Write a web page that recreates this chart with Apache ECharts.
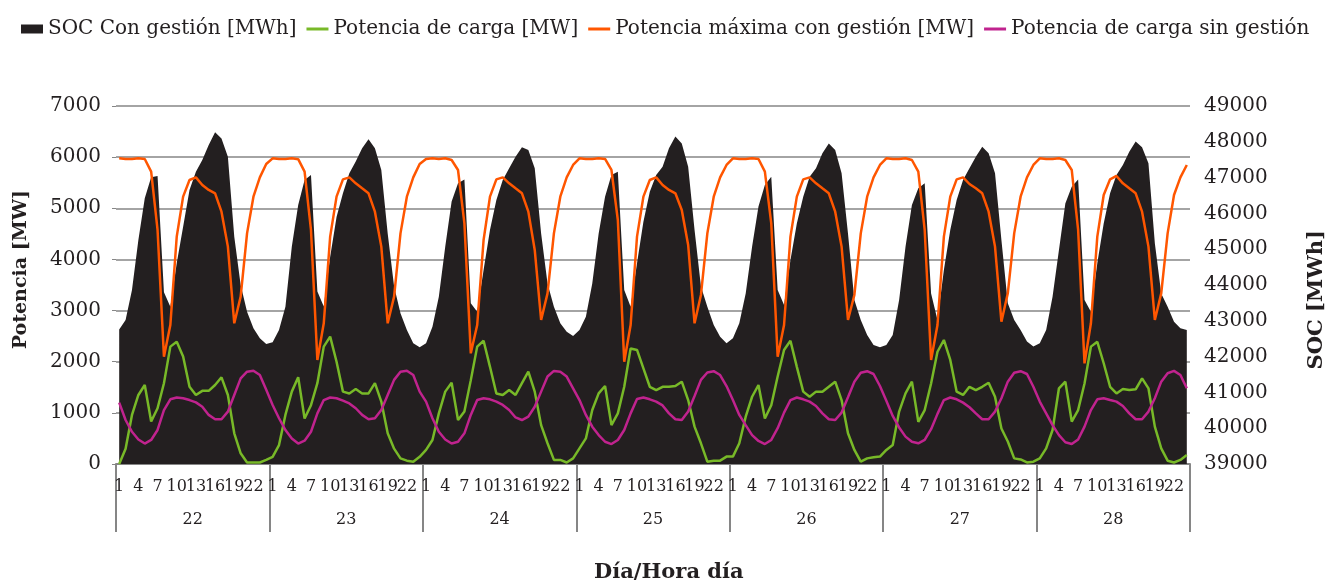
<!DOCTYPE html>
<html>
<head>
<meta charset="utf-8">
<title>SOC y potencia de carga</title>
<script src="https://cdn.jsdelivr.net/npm/echarts@6/dist/echarts.min.js"></script>
<style>
  html, body { margin: 0; padding: 0; background: #fff; }
  #main { width: 1331px; height: 585px; }
</style>
</head>
<body>
<div id="main"></div>
<script>
// días y horas del eje x (dos niveles)
var dias = ['22', '23', '24', '25', '26', '27', '28'];
var horasDia = ['1','2','3','4','5','6','7','8','9','10','11','12','13','14','15','16','17','18','19','20','21','22','23','24'];

// SOC con gestión [MWh] (eje derecho), un array por día
var soc22 = [42760,43020,43860,45260,46420,47010,47045,43800,43395,44605,45630,46655,47165,47490,47910,48265,48095,47585,45350,44000,43255,42790,42510,42350];
var soc23 = [42400,42740,43395,45070,46235,46930,47070,43815,43400,44790,45900,46560,47120,47450,47820,48070,47820,47210,45440,43955,43210,42740,42370,42260];
var soc24 = [42370,42835,43675,45070,46330,46840,46950,43490,43255,44420,45535,46375,46935,47260,47585,47845,47770,47260,45440,44045,43395,42930,42695,42575];
var soc25 = [42745,43115,44045,45440,46465,47070,47165,43860,43395,44605,45770,46605,47070,47305,47820,48145,47955,47305,45535,43955,43395,42885,42555,42370];
var soc26 = [42510,42930,43765,45070,46190,46795,47025,43860,43440,44700,45720,46465,47025,47260,47680,47955,47770,47120,45440,43580,43020,42605,42325,42260];
var soc27 = [42325,42605,43580,45070,46235,46700,46840,43765,43020,44420,45535,46375,46935,47260,47585,47865,47680,47120,45255,43490,43020,42740,42420,42280];
var soc28 = [42370,42745,43675,44980,46280,46745,46950,43580,43255,44605,45720,46560,47070,47350,47725,48005,47845,47400,45165,43765,43395,42975,42790,42745];

// Potencia de carga [MW]
var carga22 = [0,300,960,1350,1545,830,1090,1580,2295,2390,2100,1510,1350,1430,1430,1545,1695,1350,600,210,30,30,30,80];
var carga23 = [140,370,960,1415,1695,890,1150,1580,2295,2490,2000,1415,1380,1465,1380,1380,1580,1220,600,300,110,65,45,140];
var carga24 = [275,470,990,1415,1590,860,1025,1640,2295,2410,1900,1380,1350,1445,1350,1580,1805,1415,760,405,80,80,30,110];
var carga25 = [305,500,1055,1380,1525,760,990,1510,2260,2230,1870,1510,1445,1510,1510,1525,1610,1250,730,405,45,65,65,145];
var carga26 = [145,405,925,1315,1545,890,1150,1710,2230,2410,1900,1415,1315,1415,1415,1510,1610,1250,600,275,45,110,130,145];
var carga27 = [275,370,1025,1380,1610,825,1055,1575,2195,2425,2035,1415,1350,1510,1445,1510,1590,1315,695,440,110,90,30,45];
var carga28 = [110,305,665,1480,1610,830,1055,1575,2295,2390,1970,1510,1380,1465,1445,1460,1675,1480,730,305,65,30,80,175];

// Potencia máxima con gestión [MW]
var maxima22 = [5977,5964,5964,5977,5964,5716,4576,2099,2718,4445,5227,5553,5605,5456,5358,5293,4934,4250,2751,3272,4510,5227,5605,5866];
var maxima23 = [5977,5964,5964,5977,5960,5716,4576,2034,2751,4445,5227,5566,5605,5488,5390,5293,4934,4250,2751,3272,4510,5227,5605,5866];
var maxima24 = [5964,5977,5964,5977,5944,5749,4706,2164,2718,4380,5227,5566,5605,5488,5390,5293,4934,4185,2816,3337,4510,5227,5605,5847];
var maxima25 = [5977,5964,5964,5977,5964,5749,4771,2001,2718,4445,5227,5553,5605,5456,5358,5293,4967,4282,2751,3305,4510,5227,5605,5847];
var maxima26 = [5977,5964,5964,5977,5964,5716,4706,2099,2718,4445,5227,5566,5605,5488,5390,5293,4934,4250,2816,3305,4510,5227,5605,5847];
var maxima27 = [5977,5964,5964,5977,5944,5716,4576,2034,2718,4445,5227,5566,5605,5475,5390,5293,4934,4250,2783,3337,4510,5227,5605,5847];
var maxima28 = [5977,5964,5964,5977,5944,5749,4576,1968,2751,4445,5260,5566,5632,5488,5390,5293,4934,4250,2816,3337,4510,5260,5605,5847];

// Potencia de carga sin gestión [MW]
var sinGestion22 = [1200,860,630,480,400,470,665,1055,1265,1300,1285,1250,1205,1120,960,875,875,1025,1350,1675,1805,1825,1740,1450];
var sinGestion23 = [1155,895,665,500,400,455,630,990,1250,1300,1285,1240,1185,1090,960,875,895,1055,1350,1645,1805,1825,1740,1415];
var sinGestion24 = [1220,895,630,480,400,435,600,960,1250,1285,1265,1220,1155,1055,910,860,925,1120,1415,1710,1820,1805,1710,1480];
var sinGestion25 = [1250,960,730,565,435,390,470,665,990,1270,1300,1265,1220,1145,990,875,860,1025,1330,1645,1790,1815,1740,1525];
var sinGestion26 = [1250,960,760,565,450,390,470,700,1005,1250,1300,1265,1220,1135,990,875,860,1005,1305,1610,1785,1815,1760,1525];
var sinGestion27 = [1235,940,715,535,435,405,470,680,980,1250,1300,1265,1200,1110,990,875,875,1025,1285,1610,1785,1815,1760,1510];
var sinGestion28 = [1220,990,760,565,425,390,480,730,1055,1265,1285,1250,1220,1135,990,875,875,1025,1285,1610,1775,1820,1740,1480];

var soc = [].concat(soc22, soc23, soc24, soc25, soc26, soc27, soc28);
var carga = [].concat(carga22, carga23, carga24, carga25, carga26, carga27, carga28);
var maxima = [].concat(maxima22, maxima23, maxima24, maxima25, maxima26, maxima27, maxima28);
var sinGestion = [].concat(sinGestion22, sinGestion23, sinGestion24, sinGestion25, sinGestion26, sinGestion27, sinGestion28);

var horas = [];
for (var d = 0; d < dias.length; d++) {
	horas = horas.concat(horasDia);
}

var fuente = 'DejaVu Serif';
var gris = '#868686';
// icono de línea fina para la leyenda (caja de 22x9, trazo de 3px)
var iconoLinea = 'path://M0,0 M0,3 L22,3 L22,6 L0,6 Z M22,9';

var myChart = echarts.init(document.getElementById('main'));
var option = {
	animation: false,
	textStyle: { fontFamily: fuente, color: '#231f20' },
	legend: {
		left: 16,
		top: 14,
		itemWidth: 22,
		itemHeight: 9,
		itemGap: 10,
		textStyle: { fontFamily: fuente, fontSize: 20, color: '#231f20' },
		data: [
			{ name: 'SOC Con gestión [MWh]', icon: 'rect' },
			{ name: 'Potencia de carga [MW]', icon: iconoLinea },
			{ name: 'Potencia máxima con gestión [MW]', icon: iconoLinea },
			{ name: 'Potencia de carga sin gestión', icon: iconoLinea }
		]
	},
	grid: { left: 116, right: 141, top: 106, bottom: 121 },
	xAxis: [{
		type: 'category',
		data: horas,
		boundaryGap: true,
		axisLine: { lineStyle: { color: gris, width: 2 } },
		axisTick: { show: false },
		axisLabel: {
			// etiqueta cada 3 horas: 1, 4, 7, ... 22
			interval: 0,
			formatter: function(val, idx) { return idx % 3 === 0 ? val : ''; },
			margin: 15,
			fontSize: 16,
			color: '#231f20',
			fontFamily: fuente
		}
	}, {
		type: 'category',
		data: dias,
		position: 'bottom',
		boundaryGap: true,
		axisLine: { show: false },
		axisTick: { show: true, interval: 0, length: 68, lineStyle: { color: gris, width: 2 } },
		axisLabel: { margin: 48, fontSize: 16, color: '#231f20', fontFamily: fuente }
	}],
	yAxis: [{
		type: 'value',
		min: 0,
		max: 7000,
		interval: 1000,
		axisLine: { show: false },
		axisTick: { show: true, length: 4, lineStyle: { color: gris } },
		axisLabel: {
			margin: 15, fontSize: 20, color: '#231f20', fontFamily: fuente,
			formatter: function(v) { return String(v); }
		},
		splitLine: { lineStyle: { color: gris, width: 1.5 } }
	}, {
		type: 'value',
		position: 'right',
		min: 39000,
		max: 49000,
		interval: 1000,
		axisLine: { show: false },
		axisTick: { show: false },
		axisLabel: {
			margin: 14, fontSize: 20, color: '#231f20', fontFamily: fuente,
			formatter: function(v) { return String(v); }
		},
		splitLine: { show: false }
	}],
	graphic: [{
		type: 'text', left: 12, top: 190, rotation: Math.PI / 2,
		style: { text: 'Potencia [MW]', font: 'bold 19px "DejaVu Serif"', fill: '#231f20' }
	}, {
		type: 'text', left: 1306, top: 230, rotation: Math.PI / 2,
		style: { text: 'SOC [MWh]', font: 'bold 21px "DejaVu Serif"', fill: '#231f20' }
	}, {
		type: 'text', left: 594, top: 562,
		style: { text: 'Día/Hora día', font: 'bold 21px "DejaVu Serif"', fill: '#231f20' }
	}],
	series: [{
		name: 'SOC Con gestión [MWh]',
		type: 'line',
		yAxisIndex: 1,
		data: soc,
		symbol: 'none',
		lineStyle: { width: 0, color: '#231f20' },
		itemStyle: { color: '#231f20' },
		areaStyle: { color: '#231f20', opacity: 1, origin: 'start' },
		z: 1
	}, {
		name: 'Potencia de carga [MW]',
		type: 'line',
		data: carga,
		symbol: 'none',
		lineStyle: { width: 2.5, color: '#78b928' },
		itemStyle: { color: '#78b928' },
		z: 3
	}, {
		name: 'Potencia máxima con gestión [MW]',
		type: 'line',
		data: maxima,
		symbol: 'none',
		lineStyle: { width: 2.5, color: '#ff5600' },
		itemStyle: { color: '#ff5600' },
		z: 3
	}, {
		name: 'Potencia de carga sin gestión',
		type: 'line',
		data: sinGestion,
		symbol: 'none',
		lineStyle: { width: 2.5, color: '#c0238e' },
		itemStyle: { color: '#c0238e' },
		z: 3
	}]
};
myChart.setOption(option);
</script>
</body>
</html>
